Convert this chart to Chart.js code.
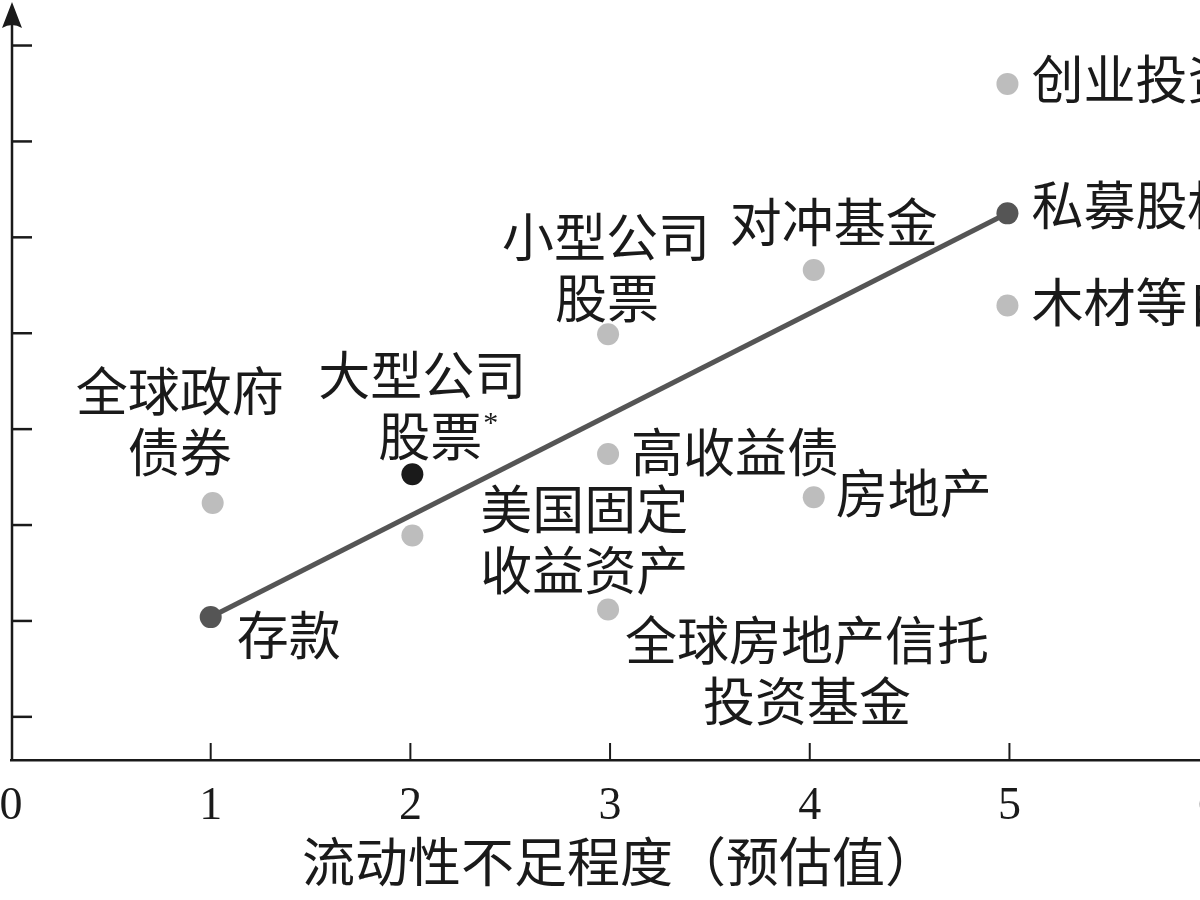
<!DOCTYPE html>
<html lang="zh-CN">
<head>
<meta charset="utf-8">
<title>流动性不足程度与收益</title>
<script src="https://cdn.jsdelivr.net/npm/chart.js@4.4.1/dist/chart.umd.min.js"></script>
<style>
    html, body {
        margin: 0;
        padding: 0;
        width: 1200px;
        height: 900px;
        overflow: hidden;
        background: #ffffff;
    }

    /* the figure is cropped on both sides, like the reference */
    #wrap {
        position: absolute;
        left: -40px;
        top: 0;
        width: 1340px;
        height: 900px;
    }
</style>
</head>
<body>
<div id="wrap"><canvas id="chart"></canvas></div>
<script>
// ======================================================
// Data
// ======================================================

const assetNames = [
    "存款",
    "全球政府\n债券",
    "大型公司\n股票*",
    "美国固定\n收益资产",
    "小型公司\n股票",
    "高收益债",
    "全球房地产信托\n投资基金",
    "对冲基金",
    "房地产",
    "创业投资",
    "私募股权",
    "木材等自然资源"
];

// 流动性不足程度（预估值）
const illiquidity = [1.0, 1.01, 2.01, 2.01, 2.99, 2.99, 2.99, 4.02, 4.02, 4.99, 4.99, 4.99];

// vertical position (unlabelled axis)
const returns = [2.04, 3.23, 3.53, 2.89, 4.99, 3.74, 2.12, 5.66, 3.29, 7.6, 6.25, 5.29];

// which marker each asset gets
const assetGroup = [
    "trend", "other", "focus", "other", "other", "other",
    "other", "other", "other", "other", "trend", "other"
];

// the trend line joins these two assets
const trendFrom = "存款";
const trendTo = "私募股权";

const xTickValues = [0, 1, 2, 3, 4, 5, 6];
const yTickValues = [1, 2, 3, 4, 5, 6, 7, 8];

const xTitle = "流动性不足程度（预估值）";

// ======================================================
// Style
// ======================================================

const cjkFont = "'Noto Sans CJK SC', 'Noto Sans', sans-serif";
const serifFont = "'Liberation Serif', 'DejaVu Serif', serif";
const ink = "#1a1a1a";

const groupColor = {
    trend: "#555555",
    focus: "#1a1a1a",
    other: "#bdbdbd"
};

// label offsets from the marker (px): dx per line, dy of first line
const labelPlacement = [
    { dx: [26], dy: 18, align: "left" },
    { dx: [-33, -33], dy: -112, align: "center" },
    { dx: [10, 18], dy: -99, align: "center" },
    { dx: [172, 172], dy: -26, align: "center" },
    { dx: [-2, -1], dy: -97, align: "center" },
    { dx: [23], dy: -2, align: "left" },
    { dx: [199, 199], dy: 31, align: "center" },
    { dx: [20], dy: -48, align: "center" },
    { dx: [22], dy: -4, align: "left" },
    { dx: [24], dy: -5, align: "left" },
    { dx: [24], dy: -8, align: "left" },
    { dx: [24], dy: -3, align: "left" }
];

const lineGap = 61;

// ======================================================
// Datasets
// ======================================================

const points = illiquidity.map((x, i) => ({ x: x, y: returns[i] }));

const fromIdx = assetNames.indexOf(trendFrom);
const toIdx = assetNames.indexOf(trendTo);

const trendPoints = [points[fromIdx], points[toIdx]];

// ======================================================
// Plugins
// ======================================================

const axesPlugin = {
    id: "innerAxes",

    beforeDatasetsDraw(chart) {

        const { ctx, chartArea, scales } = chart;
        const axisX = chartArea.left + 1;
        const tipY = 2;

        ctx.save();
        ctx.strokeStyle = ink;
        ctx.fillStyle = ink;
        ctx.lineWidth = 2.5;

        // y axis with arrow
        ctx.beginPath();
        ctx.moveTo(axisX, chartArea.bottom);
        ctx.lineTo(axisX, tipY + 15);
        ctx.stroke();

        ctx.beginPath();
        ctx.moveTo(axisX, tipY);
        ctx.lineTo(axisX - 10, tipY + 26);
        ctx.quadraticCurveTo(axisX, tipY + 20, axisX + 10, tipY + 26);
        ctx.closePath();
        ctx.fill();

        // y ticks point inward
        yTickValues.forEach(v => {
            const y = scales.y.getPixelForValue(v);
            ctx.beginPath();
            ctx.moveTo(axisX, y);
            ctx.lineTo(axisX + 20, y);
            ctx.stroke();
        });

        // x ticks point inward
        ctx.lineWidth = 2;
        xTickValues.forEach(v => {
            if (v === 0) return;
            const x = scales.x.getPixelForValue(v);
            ctx.beginPath();
            ctx.moveTo(x, chartArea.bottom);
            ctx.lineTo(x, chartArea.bottom - 17);
            ctx.stroke();
        });

        // axis title, centred under the data range
        ctx.font = `53px ${cjkFont}`;
        ctx.textAlign = "center";
        ctx.textBaseline = "middle";
        ctx.fillText(xTitle, scales.x.getPixelForValue(3.05), chartArea.bottom + 102);

        ctx.restore();
    }
};

const labelPlugin = {
    id: "assetLabels",

    afterDatasetsDraw(chart) {

        const ctx = chart.ctx;
        const meta = chart.getDatasetMeta(0);

        ctx.save();
        ctx.fillStyle = ink;
        ctx.textBaseline = "middle";

        assetNames.forEach((name, i) => {

            const pt = meta.data[i];
            const place = labelPlacement[i];

            name.split("\n").forEach((line, k) => {

                const star = line.endsWith("*");
                const text = star ? line.slice(0, -1) : line;
                const x = pt.x + (place.dx[k] ?? place.dx[0]);
                const y = pt.y + place.dy + k * lineGap;

                ctx.font = `52px ${cjkFont}`;
                ctx.textAlign = place.align;
                ctx.fillText(text, x, y);

                if (star) {
                    const w = ctx.measureText(text).width;
                    const right = place.align === "center" ? x + w / 2 : x + w;
                    ctx.font = `30px ${serifFont}`;
                    ctx.textAlign = "left";
                    ctx.fillText("*", right + 1, y - 12);
                }
            });
        });

        ctx.restore();
    }
};

// ======================================================
// Chart
// ======================================================

new Chart(document.getElementById("chart"), {

    type: "scatter",

    data: {
        datasets: [
            {
                data: points,
                backgroundColor: assetGroup.map(g => groupColor[g]),
                borderWidth: 0,
                pointRadius: 11,
                pointHoverRadius: 11,
                order: 0
            },
            {
                type: "line",
                data: trendPoints,
                borderColor: "#555555",
                borderWidth: 5,
                pointRadius: 0,
                fill: false,
                order: 1
            }
        ]
    },

    options: {

        responsive: true,
        maintainAspectRatio: false,
        animation: false,
        events: [],

        layout: {
            padding: { left: 51, right: 9, top: 3, bottom: 80 }
        },

        plugins: {
            legend: { display: false },
            tooltip: { enabled: false }
        },

        scales: {

            x: {
                type: "linear",
                min: 0,
                max: 6.4,
                afterBuildTicks: scale => {
                    scale.ticks = xTickValues.map(v => ({ value: v }));
                },
                afterFit: scale => {
                    scale.height = 60;
                },
                grid: { display: false, drawTicks: false },
                border: { display: true, color: ink, width: 2.5 },
                ticks: {
                    color: ink,
                    padding: 19,
                    font: { family: serifFont, size: 46, lineHeight: 1.2 },
                    maxRotation: 0,
                    autoSkip: false
                }
            },

            y: {
                type: "linear",
                min: 0.55,
                max: 8.36,
                display: false
            }
        }
    },

    plugins: [axesPlugin, labelPlugin]
});
</script>
</body>
</html>
